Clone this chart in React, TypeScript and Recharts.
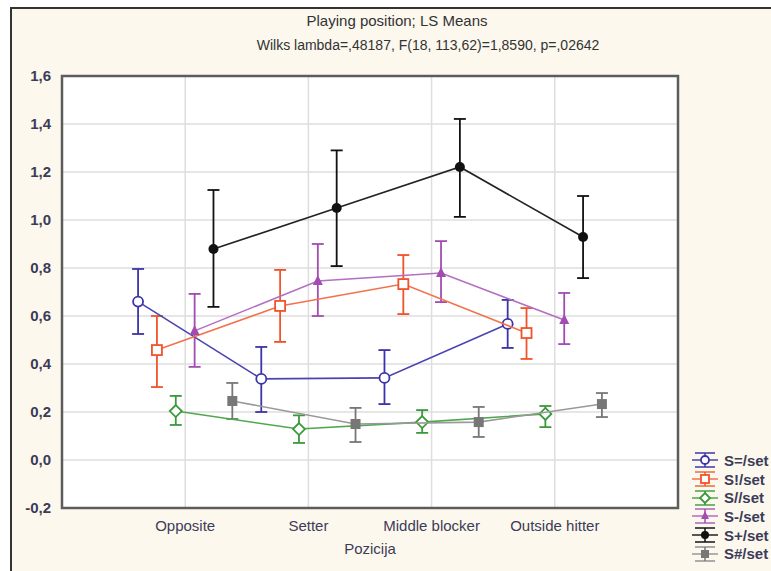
import React from "react";
import {
  ComposedChart,
  Scatter,
  XAxis,
  YAxis,
  CartesianGrid,
  ErrorBar,
  ReferenceArea,
  Legend,
} from "recharts";

const CATEGORIES = ["Opposite", "Setter", "Middle blocker", "Outside hitter"];
const Y_TICKS = [-0.2, 0, 0.2, 0.4, 0.6, 0.8, 1.0, 1.2, 1.4, 1.6];

// LS means and confidence limits per position
const meanEq = [0.66, 0.338, 0.342, 0.567];
const lowEq = [0.525, 0.2, 0.233, 0.467];
const highEq = [0.796, 0.471, 0.458, 0.667];

const meanExcl = [0.458, 0.642, 0.733, 0.529];
const lowExcl = [0.304, 0.492, 0.608, 0.421];
const highExcl = [0.6, 0.792, 0.854, 0.633];

const meanSlash = [0.204, 0.129, 0.158, 0.192];
const lowSlash = [0.146, 0.071, 0.113, 0.137];
const highSlash = [0.267, 0.186, 0.208, 0.225];

const meanMinus = [0.538, 0.746, 0.779, 0.583];
const lowMinus = [0.388, 0.6, 0.658, 0.483];
const highMinus = [0.692, 0.9, 0.912, 0.696];

const meanPlus = [0.879, 1.05, 1.221, 0.929];
const lowPlus = [0.638, 0.808, 1.013, 0.758];
const highPlus = [1.125, 1.29, 1.421, 1.1];

const meanHash = [0.246, 0.15, 0.158, 0.233];
const lowHash = [0.171, 0.075, 0.096, 0.179];
const highHash = [0.321, 0.217, 0.221, 0.279];

const DODGE = 0.153; // horizontal shift between series inside one position
const FONT = "'Liberation Sans', Arial, sans-serif";

type Marker = "openCircle" | "openSquare" | "openDiamond" | "triangle" | "dot" | "square";

const series = [
  { name: "S=/set", mean: meanEq, low: lowEq, high: highEq, color: "#3b34a8", line: "#4a44b0", marker: "openCircle" as Marker },
  { name: "S!/set", mean: meanExcl, low: lowExcl, high: highExcl, color: "#f0532a", line: "#f2724c", marker: "openSquare" as Marker },
  { name: "S//set", mean: meanSlash, low: lowSlash, high: highSlash, color: "#3a9a3a", line: "#4fa84f", marker: "openDiamond" as Marker },
  { name: "S-/set", mean: meanMinus, low: lowMinus, high: highMinus, color: "#a24cb2", line: "#b46ec2", marker: "triangle" as Marker },
  { name: "S+/set", mean: meanPlus, low: lowPlus, high: highPlus, color: "#111111", line: "#222222", marker: "dot" as Marker },
  { name: "S#/set", mean: meanHash, low: lowHash, high: highHash, color: "#777777", line: "#999999", marker: "square" as Marker },
];

const buildRows = (s: (typeof series)[number], j: number) =>
  CATEGORIES.map((c, i) => ({
    name: c,
    x: i + (j - 2.5) * DODGE,
    y: s.mean[i],
    err: [s.mean[i] - s.low[i], s.high[i] - s.mean[i]],
  }));

const drawMarker = (kind: Marker, color: string, cx: number, cy: number, r = 5) => {
  switch (kind) {
    case "openCircle":
      return <circle cx={cx} cy={cy} r={r} fill="#fff" stroke={color} strokeWidth={1.8} />;
    case "openSquare":
      return <rect x={cx - r} y={cy - r} width={2 * r} height={2 * r} fill="#fff" stroke={color} strokeWidth={1.8} />;
    case "openDiamond":
      return (
        <polygon
          points={`${cx},${cy - r - 1} ${cx + r + 1},${cy} ${cx},${cy + r + 1} ${cx - r - 1},${cy}`}
          fill="#fff"
          stroke={color}
          strokeWidth={1.8}
        />
      );
    case "triangle":
      return <polygon points={`${cx},${cy - r - 1} ${cx + r},${cy + r - 1} ${cx - r},${cy + r - 1}`} fill={color} />;
    case "dot":
      return <circle cx={cx} cy={cy} r={r} fill={color} />;
    default:
      return <rect x={cx - r} y={cy - r} width={2 * r} height={2 * r} fill={color} />;
  }
};

const fmt = (v: number) => v.toFixed(1).replace(".", ",");

const LegendBox = () => (
  <div style={{ fontFamily: FONT, fontSize: 15, fontWeight: 700, color: "#3c3c58" }}>
    {series.map((s) => (
      <div key={s.name} style={{ display: "flex", alignItems: "center", height: 18.7, whiteSpace: "nowrap" }}>
        <svg width={26} height={18} style={{ marginRight: 6 }}>
          <line x1={3} x2={23} y1={2} y2={2} stroke={s.line} strokeWidth={2} opacity={0.8} />
          <line x1={3} x2={23} y1={16} y2={16} stroke={s.line} strokeWidth={2} opacity={0.8} />
          <line x1={0} x2={26} y1={9} y2={9} stroke={s.line} strokeWidth={1.5} />
          <line x1={13} x2={13} y1={2} y2={16} stroke={s.color} strokeWidth={1.5} />
          {drawMarker(s.marker, s.color, 13, 9, 4)}
        </svg>
        <span>{s.name}</span>
      </div>
    ))}
  </div>
);

export default function App() {
  return (
    <div style={{ position: "absolute", left: 0, top: 0, width: 771, height: 571, background: "#fff", overflow: "hidden" }}>
      <div
        style={{
          position: "absolute",
          left: 10,
          top: 7,
          right: 0,
          bottom: 0,
          background: "#fcf8ee",
          borderTop: "2px solid #333",
          borderLeft: "2px solid #333",
        }}
      />
      <div
        style={{
          position: "absolute",
          left: 0,
          width: 794,
          top: 12,
          textAlign: "center",
          fontFamily: FONT,
          fontSize: 15,
          color: "#333",
        }}
      >
        Playing position; LS Means
      </div>
      <div
        style={{
          position: "absolute",
          left: 0,
          width: 856,
          top: 37,
          textAlign: "center",
          fontFamily: FONT,
          fontSize: 14,
          color: "#333",
        }}
      >
        Wilks lambda=,48187, F(18, 113,62)=1,8590, p=,02642
      </div>
      <div style={{ position: "absolute", left: 0, top: 0 }}>
        <ComposedChart width={771} height={571} margin={{ top: 76, right: 93, bottom: 13, left: 2 }}>
          <CartesianGrid fill="#fff" stroke="#dedede" strokeWidth={1.5} />
          <XAxis
            type="number"
            dataKey="x"
            domain={[-1, 4]}
            ticks={[0, 1, 2, 3]}
            tickFormatter={(v: number) => CATEGORIES[v] ?? ""}
            tickLine={false}
            axisLine={false}
            tickMargin={6}
            height={50}
            allowDataOverflow
            tick={{ fill: "#3c3c58", fontSize: 15, fontFamily: FONT }}
            label={{
              value: "Pozicija",
              position: "insideBottom",
              offset: 4,
              fill: "#3c3c58",
              fontSize: 15,
              fontFamily: FONT,
            }}
          />
          <YAxis
            type="number"
            dataKey="y"
            domain={[-0.2, 1.6]}
            ticks={Y_TICKS}
            tickFormatter={fmt}
            tickLine={false}
            axisLine={false}
            tickMargin={5}
            width={60}
            allowDataOverflow
            tick={{ fill: "#3c3c58", fontSize: 15, fontWeight: 700, fontFamily: FONT }}
          />
          <ReferenceArea x1={-1} x2={4} y1={-0.2} y2={1.6} fill="none" stroke="#5c5c5c" strokeWidth={2.5} />
          {series.map((s, j) => (
            <Scatter
              key={s.name}
              name={s.name}
              data={buildRows(s, j)}
              fill={s.color}
              line={{ stroke: s.line, strokeWidth: 1.6 }}
              isAnimationActive={false}
              shape={(p: any) => drawMarker(s.marker, s.color, p.cx, p.cy)}
            >
              <ErrorBar dataKey="err" direction="y" width={6} stroke={s.color} strokeWidth={1.8} />
            </Scatter>
          ))}
          <Legend
            layout="horizontal"
            verticalAlign="middle"
            align="center"
            wrapperStyle={{ left: 692, top: 451, width: 100 }}
            content={() => <LegendBox />}
          />
        </ComposedChart>
      </div>
    </div>
  );
}
